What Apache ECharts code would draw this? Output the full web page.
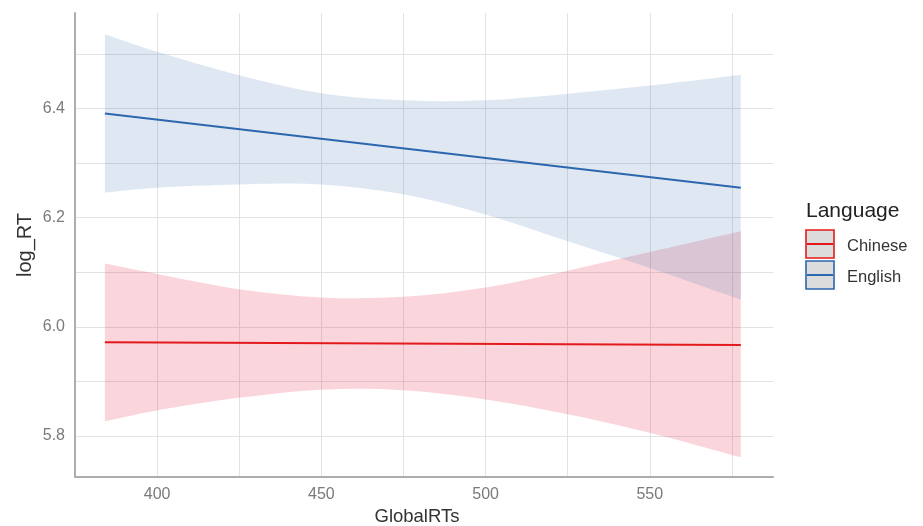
<!DOCTYPE html>
<html>
<head>
<meta charset="utf-8">
<script src="https://cdn.jsdelivr.net/npm/echarts@6/dist/echarts.min.js"></script>
<style>
html,body{margin:0;padding:0;background:#fff;}
#chart{width:923px;height:526px;}
</style>
</head>
<body>
<div id="chart"></div>
<script>
// ---- data ----
const bandX = [384.1, 400, 425, 450, 475, 500, 525, 550, 577.7];
const englishUpper = [6.536, 6.504, 6.461, 6.428, 6.415, 6.415, 6.427, 6.442, 6.462];
const englishLower = [6.246, 6.255, 6.261, 6.261, 6.243, 6.206, 6.157, 6.108, 6.050];
const chineseUpper = [6.116, 6.097, 6.069, 6.054, 6.055, 6.072, 6.103, 6.137, 6.175];
const chineseLower = [5.827, 5.847, 5.870, 5.885, 5.884, 5.867, 5.840, 5.806, 5.761];
const lineX = [384.1, 577.7];
const englishLine = [6.391, 6.255];
const chineseLine = [5.972, 5.967];
const xTickLabels = [400, 450, 500, 550];
const yTickLabels = [5.8, 6.0, 6.2, 6.4];
const languages = ['Chinese', 'English'];

const FONT = 'Liberation Sans, Arial, sans-serif';
const GRID = '#e2e2e2';
const colors = { Chinese: '#e31a1c', English: '#2c66ae' };
const fills = { Chinese: 'rgba(228,26,60,0.18)', English: 'rgba(55,110,175,0.16)' };

function pairs(xs, ys) { return xs.map((x, i) => [x, ys[i]]); }

// Catmull-Rom -> cubic bezier path segments through given pixel points
function smoothSegs(pts) {
  let d = '';
  for (let i = 0; i < pts.length - 1; i++) {
    const p0 = pts[i - 1] || pts[i], p1 = pts[i], p2 = pts[i + 1], p3 = pts[i + 2] || pts[i + 1];
    const c1 = [p1[0] + (p2[0] - p0[0]) / 6, p1[1] + (p2[1] - p0[1]) / 6];
    const c2 = [p2[0] - (p3[0] - p1[0]) / 6, p2[1] - (p3[1] - p1[1]) / 6];
    d += ' C' + c1[0] + ' ' + c1[1] + ' ' + c2[0] + ' ' + c2[1] + ' ' + p2[0] + ' ' + p2[1];
  }
  return d;
}

function bandSeries(name, lower, upper) {
  return {
    type: 'custom', name: name + ' CI', data: pairs(bandX, lower), clip: true, silent: true, z: 2,
    renderItem: function (params, api) {
      if (params.dataIndex !== 0) return null;
      const up = bandX.map((x, i) => api.coord([x, upper[i]]));
      const lo = bandX.map((x, i) => api.coord([x, lower[i]])).reverse();
      const d = 'M' + up[0][0] + ' ' + up[0][1] + smoothSegs(up) +
        ' L' + lo[0][0] + ' ' + lo[0][1] + smoothSegs(lo) + ' Z';
      return { type: 'path', shape: { pathData: d }, style: { fill: fills[name], stroke: null } };
    }
  };
}

const chart = echarts.init(document.getElementById('chart'), null, { renderer: 'canvas' });

const legendItems = [];
languages.forEach((lang, i) => {
  const top = 230 + i * 31;
  legendItems.push({
    type: 'rect', x: 806, y: top,
    shape: { x: 0, y: 0, width: 28, height: 28 },
    style: { fill: '#dcdcdc', stroke: colors[lang], lineWidth: 1.6 }
  });
  legendItems.push({
    type: 'line',
    shape: { x1: 807, y1: top + 14, x2: 833, y2: top + 14 },
    style: { stroke: colors[lang], lineWidth: 2 }
  });
  legendItems.push({
    type: 'text', x: 847, y: top + 16.5,
    style: { text: lang, fill: '#333', font: '16.5px ' + FONT, verticalAlign: 'middle', align: 'left' }
  });
});
legendItems.push({
  type: 'text', x: 806, y: 211,
  style: { text: 'Language', fill: '#222', font: '21px ' + FONT, verticalAlign: 'middle', align: 'left' }
});

chart.setOption({
  animation: false,
  backgroundColor: '#fff',
  grid: { left: 75, right: 150, top: 13, bottom: 49, containLabel: false, outerBoundsMode: 'none' },
  xAxis: {
    type: 'value', min: 375, max: 587.5, interval: 12.5,
    name: 'GlobalRTs', nameLocation: 'middle', nameGap: 30, nameMoveOverlap: false,
    nameTextStyle: { color: '#333', fontSize: 18.5, fontFamily: FONT, padding: [0, 14, 0, 0] },
    axisLine: { show: true, lineStyle: { color: '#adadad', width: 2 } },
    axisTick: { show: false },
    axisLabel: {
      interval: 0, margin: 10, color: '#7a7a7a', fontSize: 16, fontFamily: FONT,
      formatter: v => xTickLabels.some(t => Math.abs(t - v) < 1e-6) ? String(Math.round(v)) : ''
    },
    splitLine: { show: true, interval: 0, lineStyle: { color: [GRID, 'rgba(0,0,0,0)'], width: 1 } }
  },
  yAxis: {
    type: 'value', min: 5.725, max: 6.575, interval: 0.025,
    name: 'log_RT', nameLocation: 'middle', nameGap: 40, nameMoveOverlap: false,
    nameTextStyle: { color: '#333', fontSize: 20, fontFamily: FONT },
    axisLine: { show: true, lineStyle: { color: '#adadad', width: 2 } },
    axisTick: { show: false },
    axisLabel: {
      interval: 0, margin: 10, color: '#7a7a7a', fontSize: 16, fontFamily: FONT,
      formatter: v => {
        const hit = yTickLabels.find(t => Math.abs(t - v) < 1e-6);
        return hit !== undefined ? hit.toFixed(1) : '';
      }
    },
    splitLine: {
      show: true, interval: 0,
      lineStyle: { color: ['rgba(0,0,0,0)', 'rgba(0,0,0,0)', 'rgba(0,0,0,0)', GRID], width: 1 }
    }
  },
  series: [
    bandSeries('Chinese', chineseLower, chineseUpper),
    bandSeries('English', englishLower, englishUpper),
    {
      type: 'line', name: 'Chinese', data: pairs(lineX, chineseLine), symbol: 'none',
      lineStyle: { color: colors.Chinese, width: 2 }, z: 5
    },
    {
      type: 'line', name: 'English', data: pairs(lineX, englishLine), symbol: 'none',
      lineStyle: { color: colors.English, width: 2 }, z: 5
    }
  ],
  graphic: legendItems
});
</script>
</body>
</html>
